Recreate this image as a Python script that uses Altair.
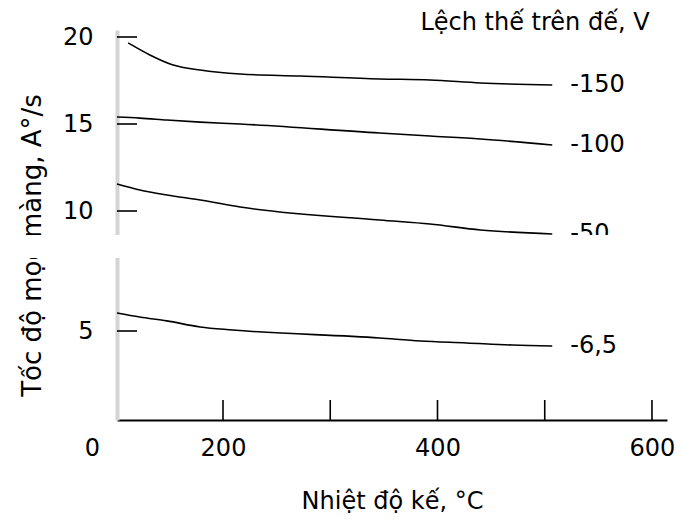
import altair as alt
import pandas as pd

# ---- data ----
series_labels = ["-150", "-100", "-50", "-6,5"]

temp_m150 = [21, 62, 106, 157, 216, 272, 346, 393, 440, 507]
rate_m150 = [19.66, 18.97, 18.39, 18.10, 17.87, 17.76, 17.59, 17.53, 17.36, 17.24]

temp_m100 = [0, 43, 94, 157, 216, 346, 393, 440, 507]
rate_m100 = [15.40, 15.34, 15.23, 15.11, 15.00, 14.48, 14.31, 14.14, 13.79]

temp_m50 = [0, 43, 94, 157, 216, 346, 393, 440, 507]
rate_m50 = [11.55, 11.21, 10.92, 10.63, 10.23, 9.48, 9.25, 8.91, 8.68]

temp_m6 = [0, 43, 94, 157, 209, 346, 384, 427, 470, 507]
rate_m6 = [5.89, 5.69, 5.50, 5.20, 5.05, 4.61, 4.44, 4.33, 4.21, 4.16]

x_label_values = [0, 200, 400, 600]
x_tick_values = [200, 300, 400, 500, 600]
y_tick_values = [5, 10, 15, 20]
axis_break = [8.60, 8.62]

legend_title = "Lệch thế trên đế, V"
x_title = "Nhiệt độ kế, °C"
y_title = "Tốc độ mọc màng, A°/s"

# ---- tables ----
temps = [temp_m150, temp_m100, temp_m50, temp_m6]
rates = [rate_m150, rate_m100, rate_m50, rate_m6]
rows = []
for lab, ts, rs in zip(series_labels, temps, rates):
    for t, r in zip(ts, rs):
        rows.append({"series": lab, "temp": t, "rate": r})
df = pd.DataFrame(rows)
df_end = pd.DataFrame([{"series": lab, "temp": ts[-1], "rate": rs[-1]}
                       for lab, ts, rs in zip(series_labels, temps, rates)])
df_yt = pd.DataFrame({"rate": y_tick_values})
df_xt = pd.DataFrame({"temp": x_tick_values})
df_band = pd.DataFrame({"rate": [axis_break[0]], "rate2": [axis_break[1]]})
df_title = pd.DataFrame({"t": [legend_title]})

FONT = "DejaVu Sans"
W, H = 550, 390

x_scale = alt.Scale(domain=[0, 200, 614], range=[0, 106, W], nice=False, zero=False)
y_scale = alt.Scale(domain=[0, 5, 8.6, 8.62, 10, 20, 20.4],
                    range=[H, 301, 228, 205, 181, 7, 0], nice=False, zero=False)

x_axis = alt.Axis(values=x_label_values, ticks=False, tickSize=0, grid=False,
                  domainColor="black", domainWidth=2,
                  labelFont=FONT, labelFontSize=24, labelColor="black",
                  labelPadding=16, labelFlush=False, labelOverlap=False,
                  labelOffset={"condition": {"test": "datum.value == 0", "value": -25}, "value": 0},
                  title=x_title, titleFont=FONT, titleFontSize=24, titleFontWeight="normal",
                  titleColor="black", titleX=275, titleY=88, titleAlign="center",
                  titleBaseline="alphabetic")
y_axis = alt.Axis(values=y_tick_values, ticks=False, tickSize=0, grid=False,
                  domainColor="#d4d4d4", domainWidth=4,
                  labelFont=FONT, labelFontSize=24, labelColor="black",
                  labelPadding=24, labelOverlap=False,
                  title=y_title, titleFont=FONT, titleFontSize=26, titleFontWeight="normal",
                  titleColor="black", titleX=-77, titleY=215, titleAngle=270,
                  titleAlign="center", titleBaseline="alphabetic")

X = alt.X("temp:Q", scale=x_scale, axis=x_axis)
Y = alt.Y("rate:Q", scale=y_scale, axis=y_axis)

lines = alt.Chart(df).mark_line(color="black", strokeWidth=1.6, interpolate="monotone").encode(
    x=X, y=Y, detail="series:N")

labels = alt.Chart(df_end).mark_text(align="left", baseline="middle", dx=18,
                                     font=FONT, fontSize=24, color="black").encode(
    x=X, y=Y, text="series:N")

yticks = alt.Chart(df_yt).mark_rule(color="black", strokeWidth=1.6).encode(
    y=Y, x=alt.value(0), x2=alt.value(20))

xticks = alt.Chart(df_xt).mark_rule(color="black", strokeWidth=1.6).encode(
    x=X, y=alt.value(H), y2=alt.value(H - 20))

band = alt.Chart(df_band).mark_rect(color="white", opacity=1).encode(
    y=Y, y2="rate2:Q", x=alt.value(-117), x2=alt.value(W + 10))

title_txt = alt.Chart(df_title).mark_text(align="center", baseline="alphabetic",
                                          font=FONT, fontSize=24, color="black").encode(
    text="t:N", x=alt.value(418), y=alt.value(0))

chart = alt.layer(lines, labels, yticks, xticks, band, title_txt).properties(
    width=W, height=H,
    autosize=alt.AutoSizeParams(type="none"),
    padding={"left": 109, "top": 22, "right": 8, "bottom": 95},
    background="white",
).configure_view(stroke=None)

chart.save("out.html", embed_options={"renderer": "svg", "actions": False})
